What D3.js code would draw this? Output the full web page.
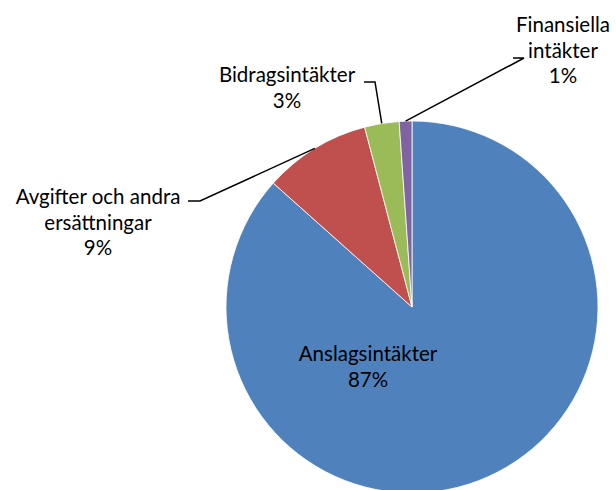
<!DOCTYPE html>
<html>
<head>
<meta charset="utf-8">
<script src="https://cdn.jsdelivr.net/npm/d3@7"></script>
<style>
  body { margin: 0; background: #fff; }
  svg text { font-family: "Lato", "Open Sans", sans-serif; fill: #000; }
</style>
</head>
<body>
<div id="chart"></div>
<script>
// income categories and their shares (percent)
const categories = ["Anslagsintäkter", "Avgifter och andra ersättningar", "Bidragsintäkter", "Finansiella intäkter"]
const values = [86.6, 9.3, 3.0, 1.1]
const colors = ["#4F81BD", "#C0504D", "#9BBB59", "#8064A2"]

// label lines (text split) and where they sit
const labelLines = [["Anslagsintäkter"], ["Avgifter och andra", "ersättningar"], ["Bidragsintäkter"], ["Finansiella", "intäkter"]]
const labelPos = [[368, 354], [98, 197], [287, 75], [563, 25]]
// leader line knee points: [textEnd, knee]
const leaders = [null, [[188, 201], [200, 201]], [[364, 82], [375, 82]], [[513, 58], [524, 58]]]

const W = 616, H = 490
const cx = 412, cy = 307, R = 186

const svg = d3.select("#chart").append("svg")
  .attr("width", W).attr("height", H)

const data = categories.map((c, i) => ({ name: c, value: values[i], i: i }))
const total = d3.sum(values)

const pie = d3.pie().value(d => d.value).sort(null)
const arc = d3.arc().innerRadius(0).outerRadius(R)
const arcs = pie(data)

const g = svg.append("g").attr("transform", `translate(${cx}, ${cy})`)
g.selectAll("path")
  .data(arcs)
  .join("path")
  .attr("d", arc)
  .attr("fill", d => colors[d.data.i])
  .attr("stroke", "#fff")
  .attr("stroke-width", 0.8)

// leader lines: from knee to the slice's outer edge
arcs.forEach((a, i) => {
  if (!leaders[i]) return
  const mid = (a.startAngle + a.endAngle) / 2
  const ex = cx + Math.sin(mid) * R, ey = cy - Math.cos(mid) * R
  const pts = [leaders[i][0], leaders[i][1], [ex, ey]]
  svg.append("path")
    .attr("d", d3.line()(pts))
    .attr("fill", "none")
    .attr("stroke", "#000")
    .attr("stroke-width", 1.5)
})

// labels
arcs.forEach((a, i) => {
  const pct = Math.round(a.data.value / total * 100) + "%"
  const lines = labelLines[i].concat([pct])
  const t = svg.append("text")
    .attr("text-anchor", "middle")
    .attr("font-size", 20.5)
  lines.forEach((l, k) => {
    t.append("tspan")
      .attr("x", labelPos[i][0])
      .attr("y", labelPos[i][1] + 7 + k * 25.5)
      .text(l)
  })
})
</script>
</body>
</html>
